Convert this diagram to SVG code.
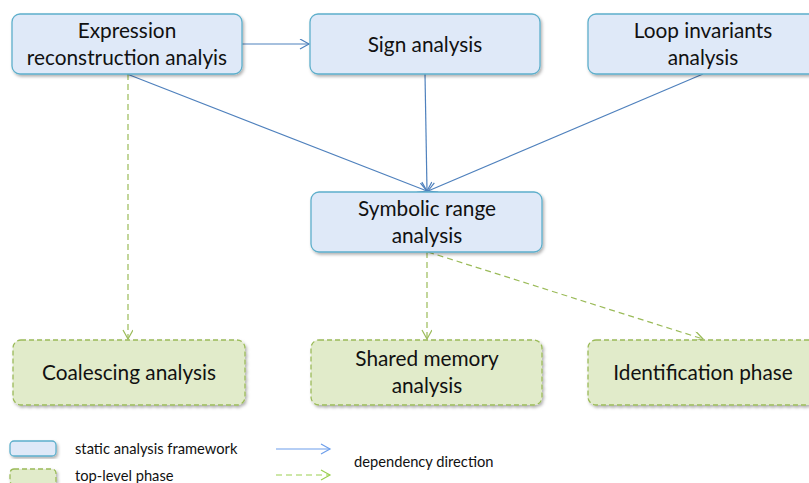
<svg xmlns="http://www.w3.org/2000/svg" width="809" height="483" viewBox="0 0 809 483">
  <style>
    text { font-family: Lato, "Open Sans", "Liberation Sans", sans-serif; fill: #111; }
    .lbl { font-size: 20.8px; text-anchor: middle; }
    .leg { font-size: 14.7px; }
    .fw { fill: #dfe9f8; stroke: #5eafcb; stroke-width: 1.3; filter: url(#shadow); }
    .ph { fill: #e1ebca; stroke: #9bbb59; stroke-width: 1.3; stroke-dasharray: 5 3; filter: url(#shadow); }
    .dep { fill: none; stroke: #4f81bd; stroke-width: 1.2; marker-end: url(#arB); }
    .dep2 { fill: none; stroke: #9bbb59; stroke-width: 1.2; stroke-dasharray: 6 4; marker-end: url(#arG); }
  </style>
  <defs>
    <filter id="shadow" x="-10%" y="-10%" width="120%" height="130%">
      <feDropShadow dx="1.5" dy="2" stdDeviation="1.5" flood-color="#000" flood-opacity="0.3"/>
    </filter>
    <marker id="arB" markerWidth="12" markerHeight="12" refX="10" refY="5" orient="auto" markerUnits="userSpaceOnUse">
      <path d="M1,0 L10,5 L1,10" fill="none" stroke="#4f81bd" stroke-width="1.2"/>
    </marker>
    <marker id="arG" markerWidth="12" markerHeight="12" refX="10" refY="5" orient="auto" markerUnits="userSpaceOnUse">
      <path d="M1,0 L10,5 L1,10" fill="none" stroke="#9bbb59" stroke-width="1.2"/>
    </marker>
  </defs>

  <g id="connectors">
    <line class="dep" x1="242" y1="44" x2="309" y2="44"/>
    <line class="dep" x1="127" y1="74" x2="427" y2="191"/>
    <line class="dep" x1="425" y1="74" x2="427" y2="191"/>
    <line class="dep" x1="703" y1="74" x2="428" y2="191"/>
    <line class="dep2" x1="128" y1="74" x2="128" y2="339"/>
    <line class="dep2" x1="427" y1="252" x2="427" y2="339"/>
    <line class="dep2" x1="428" y1="252" x2="703" y2="339"/>
  </g>

  <g id="expression-reconstruction">
    <rect class="fw" x="12" y="14" width="230" height="60" rx="8"/>
    <text class="lbl" x="127" y="38">Expression</text>
    <text class="lbl" x="127" y="65">reconstruction analyis</text>
  </g>
  <g id="sign-analysis">
    <rect class="fw" x="310" y="14" width="230" height="60" rx="8"/>
    <text class="lbl" x="425" y="52">Sign analysis</text>
  </g>
  <g id="loop-invariants">
    <rect class="fw" x="588" y="14" width="232" height="60" rx="8"/>
    <text class="lbl" x="703" y="38">Loop invariants</text>
    <text class="lbl" x="703" y="65">analysis</text>
  </g>
  <g id="symbolic-range">
    <rect class="fw" x="311" y="192" width="231" height="60" rx="8"/>
    <text class="lbl" x="427" y="216">Symbolic range</text>
    <text class="lbl" x="427" y="243">analysis</text>
  </g>
  <g id="coalescing">
    <rect class="ph" x="13" y="340" width="232" height="65" rx="8"/>
    <text class="lbl" x="129" y="380">Coalescing analysis</text>
  </g>
  <g id="shared-memory">
    <rect class="ph" x="311" y="340" width="231" height="65" rx="8"/>
    <text class="lbl" x="427" y="366">Shared memory</text>
    <text class="lbl" x="427" y="393">analysis</text>
  </g>
  <g id="identification">
    <rect class="ph" x="588" y="340" width="232" height="65" rx="8"/>
    <text class="lbl" x="703" y="380">Identification phase</text>
  </g>

  <g id="legend">
    <rect class="fw" x="10" y="441" width="46" height="15" rx="4"/>
    <rect class="ph" x="10" y="469" width="46" height="16" rx="4"/>
    <text class="leg" x="75" y="454">static analysis framework</text>
    <text class="leg" x="75" y="481">top-level phase</text>
    <line x1="276" y1="449" x2="330" y2="449" stroke="#6d9eeb" stroke-width="1.2"/>
    <path d="M321,444 L330,449 L321,454" fill="none" stroke="#6d9eeb" stroke-width="1.2"/>
    <line x1="276" y1="475" x2="330" y2="475" stroke="#9bd050" stroke-width="1.2" stroke-dasharray="6 4"/>
    <path d="M321,470 L330,475 L321,480" fill="none" stroke="#9bd050" stroke-width="1.2"/>
    <text class="leg" x="354" y="467">dependency direction</text>
  </g>
</svg>
